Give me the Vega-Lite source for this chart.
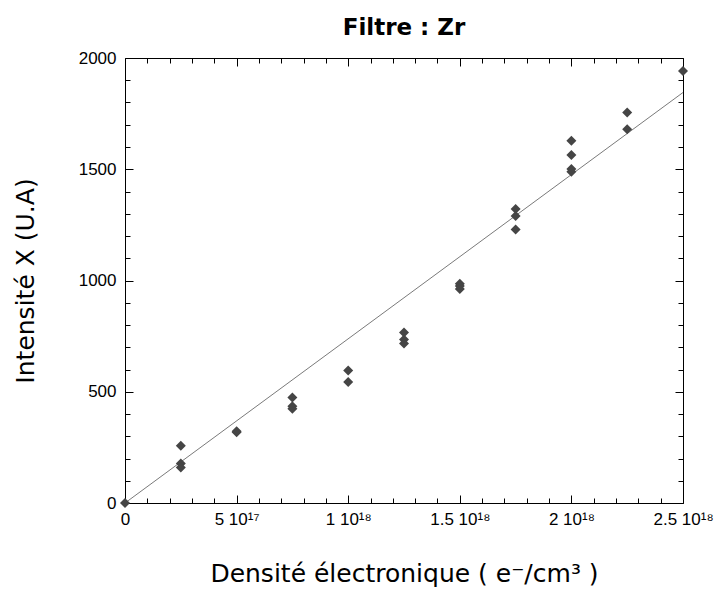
{
  "$schema": "https://vega.github.io/schema/vega-lite/v6.json",
  "autosize": "none",
  "width": 558,
  "height": 445,
  "padding": {"left": 125, "top": 58, "right": 39, "bottom": 86},
  "background": "white",
  "title": {
    "text": "Filtre : Zr",
    "font": "DejaVu Sans",
    "fontWeight": "bold",
    "fontSize": 23,
    "color": "black",
    "anchor": "middle",
    "baseline": "bottom",
    "offset": 14,
    "dy": 28
  },
  "datasets": {
    "points": [
      {"densite": 0, "intensite": 0},
      {"densite": 2.5e17, "intensite": 257},
      {"densite": 2.5e17, "intensite": 178},
      {"densite": 2.5e17, "intensite": 160},
      {"densite": 5e17, "intensite": 323},
      {"densite": 5e17, "intensite": 318},
      {"densite": 7.5e17, "intensite": 474},
      {"densite": 7.5e17, "intensite": 435},
      {"densite": 7.5e17, "intensite": 424},
      {"densite": 1e18, "intensite": 596},
      {"densite": 1e18, "intensite": 544},
      {"densite": 1.25e18, "intensite": 766},
      {"densite": 1.25e18, "intensite": 735},
      {"densite": 1.25e18, "intensite": 717},
      {"densite": 1.5e18, "intensite": 985},
      {"densite": 1.5e18, "intensite": 975},
      {"densite": 1.5e18, "intensite": 962},
      {"densite": 1.75e18, "intensite": 1321},
      {"densite": 1.75e18, "intensite": 1290},
      {"densite": 1.75e18, "intensite": 1229},
      {"densite": 2e18, "intensite": 1628},
      {"densite": 2e18, "intensite": 1564},
      {"densite": 2e18, "intensite": 1501},
      {"densite": 2e18, "intensite": 1489},
      {"densite": 2.25e18, "intensite": 1755},
      {"densite": 2.25e18, "intensite": 1680},
      {"densite": 2.5e18, "intensite": 1942}
    ],
    "fit": [
      {"densite": 0, "intensite": 0},
      {"densite": 2.5e18, "intensite": 1845}
    ]
  },
  "layer": [
    {
      "data": {"name": "fit"},
      "mark": {"type": "line", "color": "#7a7a7a", "strokeWidth": 1, "clip": true},
      "encoding": {
        "x": {
          "field": "densite", "type": "quantitative",
          "scale": {"domain": [0, 2.5e18], "nice": false, "zero": true},
          "axis": {
            "orient": "bottom",
            "title": "Densité électronique ( e⁻/cm³ )",
            "titleFont": "DejaVu Sans", "titleFontSize": 25, "titleFontWeight": "normal", "titleColor": "black",
            "titlePadding": 31,
            "values": [0, 1e17, 2e17, 3e17, 4e17, 5e17, 6e17, 7e17, 8e17, 9e17, 1e18, 1.1e18, 1.2e18, 1.3e18, 1.4e18, 1.5e18, 1.6e18, 1.7e18, 1.8e18, 1.9e18, 2e18, 2.1e18, 2.2e18, 2.3e18, 2.4e18, 2.5e18],
            "labelExpr": "datum.value == 0 ? '0' : datum.value == 5e17 ? '5 10¹⁷' : datum.value == 1e18 ? '1 10¹⁸' : datum.value == 1.5e18 ? '1.5 10¹⁸' : datum.value == 2e18 ? '2 10¹⁸' : datum.value == 2.5e18 ? '2.5 10¹⁸' : ''",
            "labelFont": "Liberation Sans Narrow, Liberation Sans", "labelFontSize": 17, "labelColor": "black",
            "labelPadding": 16, "labelOverlap": false, "labelFlush": false,
            "tickSize": {"condition": {"test": "datum.value % 5e17 == 0", "value": -8}, "value": -5},
            "tickColor": "black", "domainColor": "black", "grid": false
          }
        },
        "y": {
          "field": "intensite", "type": "quantitative",
          "scale": {"domain": [0, 2000], "nice": false},
          "axis": {
            "orient": "left",
            "title": "Intensité X (U.A)",
            "titleFont": "DejaVu Sans", "titleFontSize": 25, "titleFontWeight": "normal", "titleColor": "black",
            "titlePadding": 40,
            "values": [0, 100, 200, 300, 400, 500, 600, 700, 800, 900, 1000, 1100, 1200, 1300, 1400, 1500, 1600, 1700, 1800, 1900, 2000],
            "labelExpr": "datum.value % 500 == 0 ? datum.label : ''",
            "format": "d",
            "labelFont": "Liberation Sans Narrow, Liberation Sans", "labelFontSize": 17, "labelColor": "black",
            "labelPadding": 17, "labelOverlap": false, "labelFlush": false,
            "tickSize": {"condition": {"test": "datum.value % 500 == 0", "value": -8}, "value": -5},
            "tickColor": "black", "domainColor": "black", "grid": false
          }
        }
      }
    },
    {
      "data": {"name": "points"},
      "mark": {"type": "point", "shape": "diamond", "filled": true, "size": 100, "color": "#454545", "opacity": 1},
      "encoding": {
        "x": {
          "field": "densite", "type": "quantitative",
          "axis": {
            "orient": "top", "title": null, "labels": false, "minExtent": 0, "maxExtent": 0,
            "values": [0, 1e17, 2e17, 3e17, 4e17, 5e17, 6e17, 7e17, 8e17, 9e17, 1e18, 1.1e18, 1.2e18, 1.3e18, 1.4e18, 1.5e18, 1.6e18, 1.7e18, 1.8e18, 1.9e18, 2e18, 2.1e18, 2.2e18, 2.3e18, 2.4e18, 2.5e18],
            "tickSize": {"condition": {"test": "datum.value % 5e17 == 0", "value": -8}, "value": -5},
            "tickColor": "black", "domainColor": "black", "grid": false
          }
        },
        "y": {
          "field": "intensite", "type": "quantitative",
          "axis": {
            "orient": "right", "title": null, "labels": false, "minExtent": 0, "maxExtent": 0,
            "values": [0, 100, 200, 300, 400, 500, 600, 700, 800, 900, 1000, 1100, 1200, 1300, 1400, 1500, 1600, 1700, 1800, 1900, 2000],
            "tickSize": {"condition": {"test": "datum.value % 500 == 0", "value": -8}, "value": -5},
            "tickColor": "black", "domainColor": "black", "grid": false
          }
        }
      }
    }
  ],
  "resolve": {"axis": {"x": "independent", "y": "independent"}},
  "config": {"view": {"stroke": null}}
}
